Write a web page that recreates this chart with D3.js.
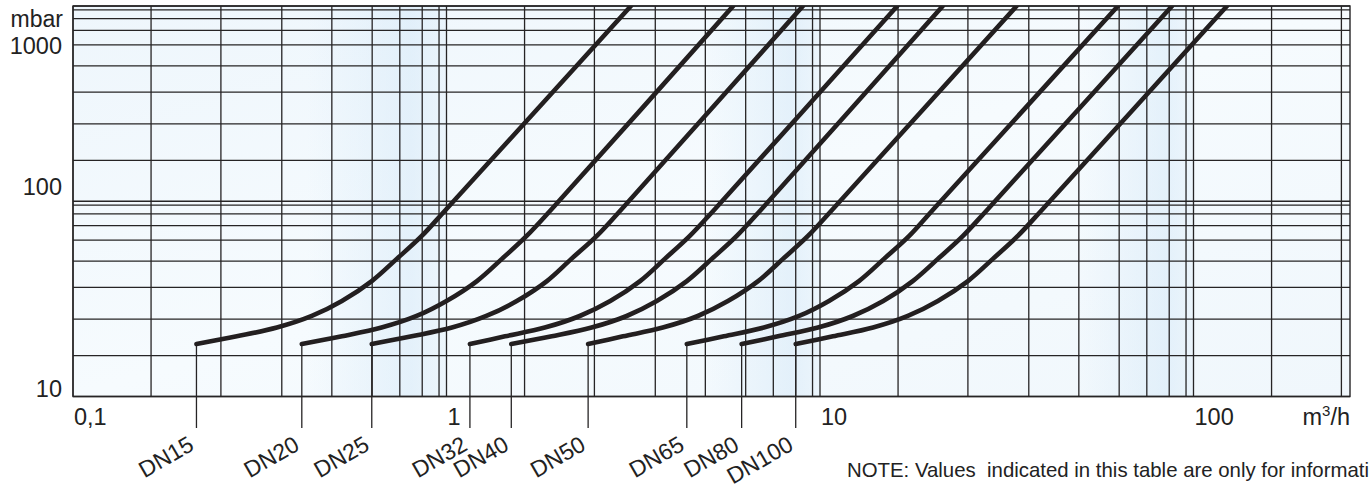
<!DOCTYPE html>
<html>
<head>
<meta charset="utf-8">
<script src="https://cdn.jsdelivr.net/npm/d3@7"></script>
<style>
  body { margin: 0; background: #fff; }
  text { font-family: "Liberation Sans", Arial, sans-serif; fill: #222; }
</style>
</head>
<body>
<div class="board"></div>
<script>
(function() {

  // pressure drop (mbar) at the sample points, shared by every curve
  var pressure = [23.2, 25.3, 27.7, 31.0, 35.7, 42.4, 51.1, 62.9, 85.7, 1000];

  // flow rate (m3/h) of each valve size at those pressures
  var flowDN15  = [0.265, 0.326, 0.392, 0.460, 0.525, 0.599, 0.689, 0.798, 1.0, 3.6];
  var flowDN20  = [0.44, 0.525, 0.634, 0.775, 1.0, 1.39, 1.71, 2.03, 2.39, 5.69];
  var flowDN25  = [0.599, 0.753, 1.07, 1.51, 1.90, 2.32, 2.67, 3.04, 3.45, 8.43];
  var flowDN32  = [1.30, 1.75, 2.29, 2.79, 3.26, 3.75, 4.19, 4.69, 5.24, 19.9];
  var flowDN40  = [1.83, 2.39, 2.96, 3.53, 4.03, 4.63, 5.16, 5.78, 6.58, 26.4];
  var flowDN50  = [2.91, 3.47, 4.15, 4.85, 5.56, 6.45, 7.43, 8.73, 11.66, 38.0];
  var flowDN65  = [4.63, 5.46, 6.66, 8.2, 11.15, 14.99, 18.2, 21.6, 25.1, 59.7];
  var flowDN80  = [5.90, 7.21, 9.73, 14.2, 18.1, 22.1, 25.7, 29.3, 33.3, 81.7];
  var flowDN100 = [8.0, 11.66, 16.8, 21.4, 25.7, 30.0, 34.1, 38.2, 42.8, 142.9];

  var sizes = ['DN15', 'DN20', 'DN25', 'DN32', 'DN40', 'DN50', 'DN65', 'DN80', 'DN100'];
  var flows = [flowDN15, flowDN20, flowDN25, flowDN32, flowDN40, flowDN50, flowDN65, flowDN80, flowDN100];

  var xTickValues = [0.1, 1, 10, 100];
  var xTickLabels = ['0,1', '1', '10', '100'];
  var yTickValues = [10, 100, 1000];
  var yTickLabels = ['10', '100', '1000'];

  // the printed chart spaces the 1..10 lines of a decade like this (not a true log)
  var decadeFrac = [0, 0.209, 0.396, 0.559, 0.693, 0.801, 0.875, 0.935, 0.98, 1];

  var width = 1371, height = 492;
  var plot = { left: 73, right: 1350, top: 6, bottom: 396.5 };
  var decadeX = 373.5;
  var decadeY = (plot.bottom - plot.top) / 2;
  var ink = '#262425';

  function gridValues(e0, e1) {
    var v = [];
    for (var e = e0; e < e1; e++)
      for (var n = 1; n <= 9; n++) v.push(+(n * Math.pow(10, e)).toPrecision(6));
    v.push(Math.pow(10, e1));
    return v;
  }
  function gridUnits(e0, e1) {
    var u = [];
    for (var e = e0; e < e1; e++)
      for (var n = 1; n <= 9; n++) u.push(e - e0 + decadeFrac[n - 1]);
    u.push(e1 - e0);
    return u;
  }

  var xGrid = gridValues(-1, 3);
  var yGrid = gridValues(1, 3);

  var x = d3.scaleLinear()
    .domain(xGrid)
    .range(gridUnits(-1, 3).map(function(u) { return plot.left + u * decadeX; }));
  var y = d3.scaleLinear()
    .domain(yGrid)
    .range(gridUnits(1, 3).map(function(u) { return plot.bottom - u * decadeY; }));

  var svg = d3.select('.board')
    .append('svg')
    .attr('width', width)
    .attr('height', height);

  var defs = svg.append('defs');
  var bg = defs.append('linearGradient')
    .attr('id', 'bg')
    .attr('x1', '0').attr('y1', '0').attr('x2', '1').attr('y2', '1');
  bg.append('stop').attr('offset', '0').attr('stop-color', '#eef6fc');
  bg.append('stop').attr('offset', '0.5').attr('stop-color', '#f6fbfe');
  bg.append('stop').attr('offset', '1').attr('stop-color', '#f0f7fc');

  var band = defs.append('linearGradient')
    .attr('id', 'band')
    .attr('x1', '0').attr('y1', '0').attr('x2', '1').attr('y2', '0');
  band.append('stop').attr('offset', '0').attr('stop-color', '#d6e9f8').attr('stop-opacity', 0);
  band.append('stop').attr('offset', '0.75').attr('stop-color', '#d6e9f8').attr('stop-opacity', 0.55);
  band.append('stop').attr('offset', '1').attr('stop-color', '#d6e9f8').attr('stop-opacity', 0.25);

  defs.append('clipPath').attr('id', 'plotClip')
    .append('rect')
    .attr('x', plot.left).attr('y', plot.top)
    .attr('width', plot.right - plot.left)
    .attr('height', plot.bottom - plot.top);

  svg.append('rect')
    .attr('x', plot.left).attr('y', plot.top)
    .attr('width', plot.right - plot.left)
    .attr('height', plot.bottom - plot.top)
    .style('fill', 'url(#bg)');

  // soft blue tint near the end of each decade
  svg.selectAll('rect.band')
    .data([[0.45, 1], [5, 10], [50, 100]])
    .enter()
    .append('rect')
    .attr('class', 'band')
    .attr('x', function(d) { return x(d[0]); })
    .attr('y', plot.top)
    .attr('width', function(d) { return x(d[1]) - x(d[0]); })
    .attr('height', plot.bottom - plot.top)
    .style('fill', 'url(#band)');

  // grid
  svg.selectAll('line.h')
    .data(yGrid)
    .enter()
    .append('line')
    .attr('class', 'h')
    .attr('x1', plot.left).attr('x2', plot.right)
    .attr('y1', function(d) { return y(d); })
    .attr('y2', function(d) { return y(d); })
    .style('stroke', ink)
    .style('stroke-width', 1.3);

  svg.selectAll('line.v')
    .data(xGrid.filter(function(d) { return x(d) <= plot.right; }))
    .enter()
    .append('line')
    .attr('class', 'v')
    .attr('y1', plot.top).attr('y2', plot.bottom)
    .attr('x1', function(d) { return x(d); })
    .attr('x2', function(d) { return x(d); })
    .style('stroke', ink)
    .style('stroke-width', 1.3);

  svg.append('rect')
    .attr('x', plot.left).attr('y', plot.top)
    .attr('width', plot.right - plot.left)
    .attr('height', plot.bottom - plot.top)
    .style('fill', 'none')
    .style('stroke', ink)
    .style('stroke-width', 1.4);

  // leader lines from each curve start down to its label
  svg.selectAll('line.lead')
    .data(flows)
    .enter()
    .append('line')
    .attr('class', 'lead')
    .attr('x1', function(d) { return x(d[0]); })
    .attr('x2', function(d) { return x(d[0]); })
    .attr('y1', y(pressure[0]))
    .attr('y2', plot.bottom + 31.5)
    .style('stroke', ink)
    .style('stroke-width', 1.3);

  var line = d3.line()
    .x(function(d) { return x(d[0]); })
    .y(function(d) { return y(d[1]); })
    .curve(d3.curveCatmullRom.alpha(0.5));

  svg.append('g')
    .attr('clip-path', 'url(#plotClip)')
    .selectAll('path')
    .data(flows)
    .enter()
    .append('path')
    .attr('d', function(f) { return line(f.map(function(q, i) { return [q, pressure[i]]; })); })
    .style('fill', 'none')
    .style('stroke', '#231f20')
    .style('stroke-width', 4.6)
    .style('stroke-linecap', 'round');

  // size labels
  svg.selectAll('text.dn')
    .data(sizes)
    .enter()
    .append('text')
    .attr('class', 'dn')
    .attr('transform', function(d, i) {
      return 'translate(' + (x(flows[i][0]) - 1) + ',449) rotate(-30)';
    })
    .style('text-anchor', 'end')
    .style('font-size', '23px')
    .text(function(d) { return d; });

  // axis labels
  svg.selectAll('text.xt')
    .data(xTickValues)
    .enter()
    .append('text')
    .attr('class', 'xt')
    .attr('x', function(d) { return x(d) + 1; })
    .attr('y', plot.bottom + 28)
    .style('font-size', '23.5px')
    .text(function(d, i) { return xTickLabels[i]; });

  var xUnit = svg.append('text')
    .attr('x', plot.right)
    .attr('y', plot.bottom + 28)
    .style('text-anchor', 'end')
    .style('font-size', '23.5px')
    .text('m');
  xUnit.append('tspan').attr('dy', -9).style('font-size', '15px').text('3');
  xUnit.append('tspan').attr('dy', 9).text('/h');

  var yShift = [0, -6, 48];
  svg.selectAll('text.yt')
    .data(yTickValues)
    .enter()
    .append('text')
    .attr('class', 'yt')
    .attr('x', plot.left - 11)
    .attr('y', function(d, i) { return y(d) + yShift[i]; })
    .style('text-anchor', 'end')
    .style('font-size', '23.5px')
    .text(function(d, i) { return yTickLabels[i]; });

  svg.append('text')
    .attr('x', plot.left - 10)
    .attr('y', 26.5)
    .style('text-anchor', 'end')
    .style('font-size', '23px')
    .text('mbar');

  // the note runs off the right edge of the original picture
  svg.append('text')
    .attr('x', 1369)
    .attr('y', 477)
    .style('text-anchor', 'end')
    .style('font-size', '20.4px')
    .text('NOTE: Values\u00a0 indicated in this table are only for informati');

})();
</script>
</body>
</html>
